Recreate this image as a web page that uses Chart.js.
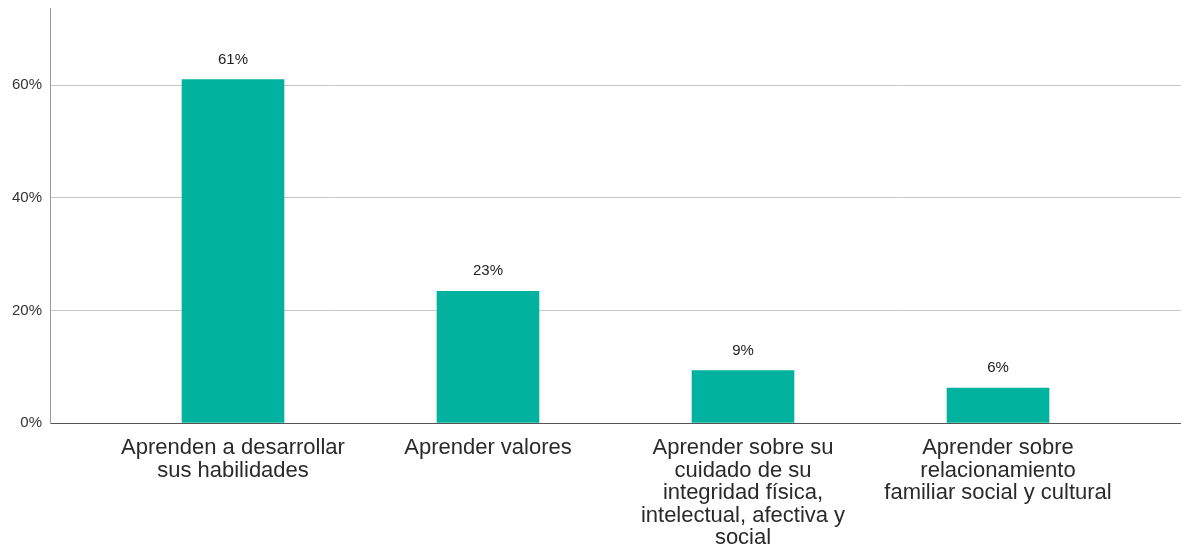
<!DOCTYPE html>
<html>
<head>
<meta charset="utf-8">
<script src="https://cdn.jsdelivr.net/npm/chart.js@4.4.1/dist/chart.umd.min.js"></script>
<style>
  html, body { margin: 0; padding: 0; background: #fff; overflow: hidden; }
  #wrap { width: 1181px; height: 554px; }
</style>
</head>
<body>
<div id="wrap"><canvas id="chart"></canvas></div>
<script>
// Data
const categories = [
    ['Aprenden a desarrollar', 'sus habilidades'],
    ['Aprender valores'],
    ['Aprender sobre su', 'cuidado de su', 'integridad física,', 'intelectual, afectiva y', 'social'],
    ['Aprender sobre', 'relacionamiento', 'familiar social y cultural']
];
const percents = [61.0, 23.4, 9.3, 6.2];
const yTicks = [0, 20, 40, 60];

// Labels above each bar
const valueLabels = {
    id: 'valueLabels',
    afterDatasetsDraw(chart) {
        const ctx = chart.ctx;
        const meta = chart.getDatasetMeta(0);
        ctx.save();
        ctx.font = '15px "Liberation Sans", Arial, sans-serif';
        ctx.fillStyle = '#222';
        ctx.textAlign = 'center';
        ctx.textBaseline = 'middle';
        meta.data.forEach((bar, i) => {
            ctx.fillText(Math.round(percents[i]) + '%', bar.x, bar.y - 20);
        });
        ctx.restore();
    }
};

const ctx = document.getElementById('chart').getContext('2d');
new Chart(ctx, {
    type: 'bar',
    data: {
        datasets: [{
            data: percents.map((v, i) => ({ x: i + 1, y: v })),
            backgroundColor: '#01b29e',
            borderWidth: 0,
            barThickness: 102
        }]
    },
    options: {
        responsive: true,
        maintainAspectRatio: false,
        animation: false,
        layout: { padding: { top: 8, right: 0, left: 0, bottom: 0 } },
        plugins: {
            legend: { display: false },
            tooltip: { enabled: false }
        },
        scales: {
            x: {
                type: 'linear',
                offset: false,
                min: 0.2824,
                max: 4.7176,
                afterBuildTicks(scale) {
                    scale.ticks = categories.map((c, i) => ({ value: i + 1 }));
                },
                afterFit(scale) {
                    scale.height = 131;
                    scale.paddingLeft = 0;
                    scale.paddingRight = 0;
                },
                grid: { display: false, drawTicks: false, offset: false },
                border: { color: '#555', width: 1 },
                ticks: {
                    autoSkip: false,
                    maxRotation: 0,
                    padding: 14,
                    color: '#2a2a2a',
                    font: { family: '"Liberation Sans", Arial, sans-serif', size: 22, lineHeight: '22.5px' },
                    callback: (v) => categories[v - 1] || ''
                }
            },
            y: {
                min: 0,
                max: 73.7,
                afterBuildTicks(scale) {
                    scale.ticks = yTicks.map(v => ({ value: v }));
                },
                afterFit(scale) {
                    scale.width = 50;
                    scale.paddingTop = 0;
                    scale.paddingBottom = 0;
                },
                grid: { color: '#c8c8c8', lineWidth: 1, drawTicks: false },
                border: { color: '#999', width: 1 },
                ticks: {
                    padding: 8,
                    color: '#333',
                    font: { family: '"Liberation Sans", Arial, sans-serif', size: 15 },
                    callback: (v) => v + '%'
                }
            }
        }
    },
    plugins: [valueLabels]
});
</script>
</body>
</html>
